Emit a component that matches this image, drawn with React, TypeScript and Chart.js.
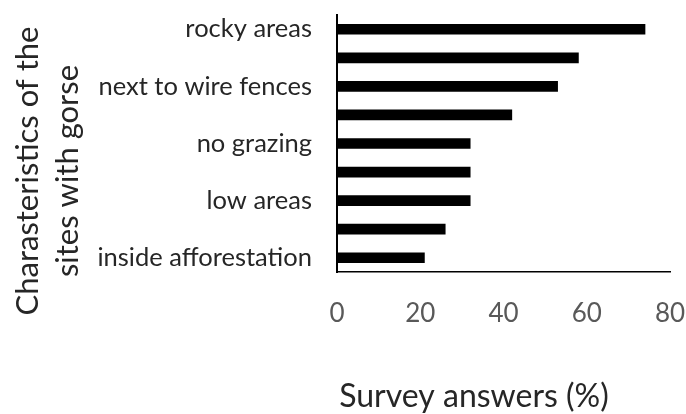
import React, { useEffect, useRef } from "react";
import { Chart, registerables } from "chart.js";

Chart.register(...registerables);

const categories = [
  "rocky areas",
  "",
  "next to wire fences",
  "",
  "no grazing",
  "",
  "low areas",
  "",
  "inside afforestation",
];
const surveyAnswers = [74, 58, 53, 42, 32, 32, 32, 26, 21];
const xTitle = "Survey answers (%)";
const yTitleLines = ["Charasteristics of the", "sites with gorse"];
const xMin = 0;
const xMax = 80;
const xStep = 20;

const FONT = "Lato, 'Open Sans', sans-serif";

const titlePlugin = {
  id: "customAxisTitles",
  afterDraw(chart: any) {
    const { ctx } = chart;
    ctx.save();
    ctx.fillStyle = "#262626";
    ctx.textAlign = "center";
    ctx.textBaseline = "alphabetic";
    ctx.font = `32px ${FONT}`;
    ctx.fillText(xTitle, 474, 407);
    ctx.font = `31px ${FONT}`;
    const baselines = [38, 78];
    yTitleLines.forEach((line, i) => {
      ctx.save();
      ctx.translate(baselines[i], 171);
      ctx.rotate(-Math.PI / 2);
      ctx.fillText(line, 0, 0);
      ctx.restore();
    });
    ctx.restore();
  },
};

const zeroPadding = (s: any) => {
  s.paddingTop = 0;
  s.paddingBottom = 0;
  s.paddingLeft = 0;
  s.paddingRight = 0;
};

export default function App() {
  const ref = useRef<HTMLCanvasElement>(null);
  useEffect(() => {
    document.body.style.margin = "0";
    const chart = new Chart(ref.current!, {
      type: "bar",
      data: {
        labels: categories,
        datasets: [
          {
            data: surveyAnswers,
            backgroundColor: "#000000",
            borderWidth: 0,
            barThickness: 10,
          },
        ],
      },
      options: {
        animation: false,
        responsive: false,
        indexAxis: "y",
        layout: { padding: { top: 15, right: 16, left: 0, bottom: 0 } },
        plugins: {
          legend: { display: false },
          tooltip: { enabled: false },
          title: { display: false },
        },
        scales: {
          y: {
            type: "category",
            grid: { display: false, drawTicks: false },
            border: { display: true, color: "#000000", width: 2 },
            ticks: {
              autoSkip: false,
              color: "#262626",
              font: { family: FONT, size: 25.5 },
              padding: 25,
              callback: (_v: any, i: number) => categories[i],
            },
            afterFit: (s: any) => {
              s.width = 337;
              zeroPadding(s);
            },
          },
          x: {
            type: "linear",
            min: xMin,
            max: xMax,
            grid: { display: false, drawTicks: false },
            border: { display: true, color: "#000000", width: 1.5 },
            ticks: {
              stepSize: xStep,
              color: "#595959",
              font: { family: FONT, size: 26 },
              padding: 26,
            },
            afterFit: (s: any) => {
              s.height = 142;
              zeroPadding(s);
            },
          },
        },
      },
      plugins: [titlePlugin],
    });
    return () => chart.destroy();
  }, []);
  return (
    <div style={{ position: "absolute", left: 0, top: 0, width: 686, height: 414 }}>
      <canvas ref={ref} width={686} height={414} />
    </div>
  );
}
